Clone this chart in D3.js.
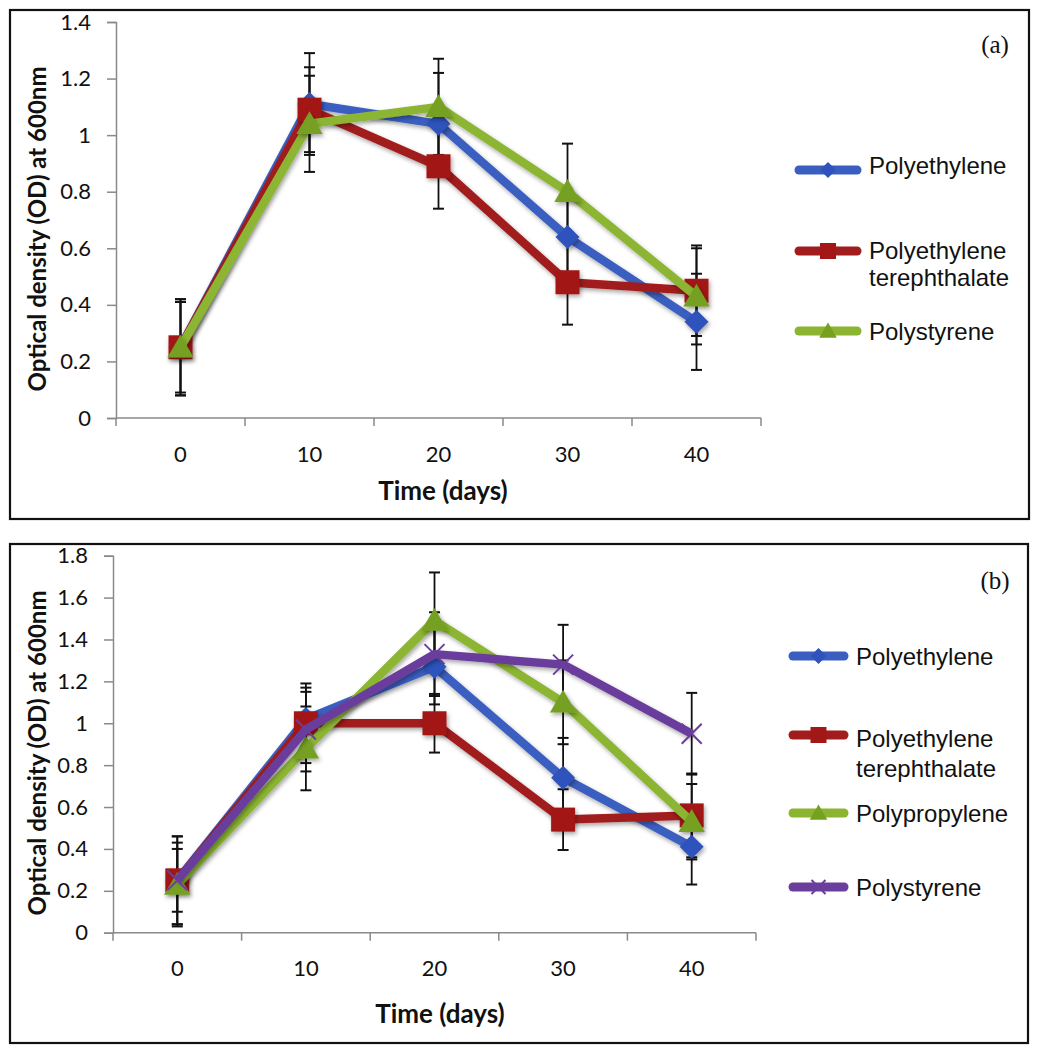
<!DOCTYPE html>
<html><head><meta charset="utf-8">
<script src="https://cdn.jsdelivr.net/npm/d3@7"></script>
<style>body{margin:0;background:#fff}svg{display:block}</style>
</head><body>
<svg id="c" width="1038" height="1050"></svg>
<script>
// ---------- data ----------
const days = ["0","10","20","30","40"];
const yTicksA = [0,0.2,0.4,0.6,0.8,1,1.2,1.4];
const yTicksB = [0,0.2,0.4,0.6,0.8,1,1.2,1.4,1.6,1.8];

const seriesNamesA = ["Polyethylene","Polyethylene terephthalate","Polystyrene"];
const peA  = [0.25,1.11,1.04,0.64,0.34];
const petA = [0.25,1.09,0.89,0.48,0.45];
const psA  = [0.25,1.04,1.10,0.80,0.43];
const peAerr  = [0.17,0.18,0.18,0.17,0.17];
const petAerr = [0.17,0.15,0.15,0.15,0.16];
const psAerr  = [0.16,0.17,0.17,0.17,0.17];

const seriesNamesB = ["Polyethylene","Polyethylene terephthalate","Polypropylene","Polystyrene"];
const peB  = [0.25,1.02,1.27,0.74,0.41];
const petB = [0.25,1.00,1.00,0.54,0.56];
const ppB  = [0.23,0.88,1.49,1.10,0.53];
const psB  = [0.25,0.97,1.33,1.28,0.95];
const peBerr  = [0.15,0.13,0.18,0.19,0.18];
const petBerr = [0.21,0.19,0.14,0.145,0.20];
const ppBerr  = [0.20,0.20,0.23,0.20,0.18];
const psBerr  = [0.21,0.20,0.20,0.19,0.195];

// ---------- styles ----------
const COL = {blue:"#3B5FC0", red:"#A11C1C", green:"#8BB531", purple:"#6A3E9C"};
const MK  = {blue:"#2F52BC", red:"#A31717", green:"#76A020", purple:"#6A3E9C"};

const svg = d3.select("#c");
const defs = svg.append("defs");
const f = defs.append("filter").attr("id","sh").attr("x","-50%").attr("y","-50%").attr("width","200%").attr("height","200%");
f.append("feDropShadow").attr("dx",1.5).attr("dy",2.5).attr("stdDeviation",2).attr("flood-color","#000").attr("flood-opacity",0.35);

function markerPath(shape, s){
  const p = d3.path();
  if(shape==="diamond"){ p.moveTo(0,-s); p.lineTo(s,0); p.lineTo(0,s); p.lineTo(-s,0); p.closePath(); }
  else if(shape==="square"){ p.rect(-s,-s,2*s,2*s); }
  else if(shape==="triangle"){ p.moveTo(0,-s*1.05); p.lineTo(s*1.1,s*0.85); p.lineTo(-s*1.1,s*0.85); p.closePath(); }
  else if(shape==="x"){ p.moveTo(-s,-s); p.lineTo(s,s); p.moveTo(s,-s); p.lineTo(-s,s); }
  return p.toString();
}

function drawPanel(cfg){
  const g = svg.append("g");
  g.append("rect").attr("x",cfg.box[0]).attr("y",cfg.box[1]).attr("width",cfg.box[2]).attr("height",cfg.box[3])
    .attr("fill","none").attr("stroke","#111").attr("stroke-width",2.2);

  const x = d3.scaleBand().domain(days).range(cfg.xr).padding(0);
  const y = d3.scaleLinear().domain(cfg.yd).range(cfg.yr);
  const cx = d => x(d)+x.bandwidth()/2;

  // y axis
  const ya = g.append("g").attr("transform",`translate(${cfg.xr[0]},0)`)
    .call(d3.axisLeft(y).tickValues(cfg.yticks).tickFormat(d3.format("~g")).tickSize(9).tickPadding(16));
  ya.select(".domain").attr("stroke","#8a8a8a").attr("stroke-width",1.5);
  ya.selectAll(".tick line").attr("stroke","#8a8a8a").attr("stroke-width",1.5);
  ya.selectAll("text").attr("font-family","Lato, 'Open Sans', sans-serif").attr("font-size",22).attr("fill","#111");

  // x axis: boundary ticks
  const bounds = days.map(d=>x(d)).concat([cfg.xr[1]]);
  const xa = g.append("g");
  xa.append("line").attr("x1",cfg.xr[0]).attr("x2",cfg.xr[1]).attr("y1",cfg.yr[0]).attr("y2",cfg.yr[0])
    .attr("stroke","#8a8a8a").attr("stroke-width",1.5);
  xa.selectAll("line.t").data(bounds).join("line").attr("class","t")
    .attr("x1",d=>d).attr("x2",d=>d).attr("y1",cfg.yr[0]).attr("y2",cfg.yr[0]+8)
    .attr("stroke","#8a8a8a").attr("stroke-width",1.5);
  xa.selectAll("text").data(days).join("text")
    .attr("x",cx).attr("y",cfg.yr[0]+35).attr("text-anchor","middle").attr("dominant-baseline","central")
    .attr("font-family","Lato, 'Open Sans', sans-serif").attr("font-size",22).attr("fill","#111").text(d=>d);

  // titles
  g.append("text").attr("x",cfg.xTitle[0]).attr("y",cfg.xTitle[1]).attr("text-anchor","middle").attr("dominant-baseline","central")
    .attr("font-family","Lato, sans-serif").attr("font-weight","bold").attr("font-size",26).attr("fill","#111").text("Time (days)");
  g.append("text").attr("transform",`translate(${cfg.yTitle[0]},${cfg.yTitle[1]}) rotate(-90)`)
    .attr("text-anchor","middle").attr("dominant-baseline","central")
    .attr("font-family","Lato, sans-serif").attr("font-weight","bold").attr("font-size",24).attr("fill","#111")
    .text("Optical density (OD) at 600nm");
  g.append("text").attr("x",cfg.label[0]).attr("y",cfg.label[1]).attr("text-anchor","middle").attr("dominant-baseline","central")
    .attr("font-family","'Liberation Serif', 'Times New Roman', serif").attr("font-size",25).attr("fill","#111").text(cfg.labelText);

  // error bars
  const eb = g.append("g");
  cfg.series.forEach(s=>{
    s.vals.forEach((v,i)=>{
      const xx = cx(days[i]), e = s.err[i];
      eb.append("line").attr("x1",xx).attr("x2",xx).attr("y1",y(v+e)).attr("y2",y(v-e)).attr("stroke","#111").attr("stroke-width",1.8);
      [v+e,v-e].forEach(t=>eb.append("line").attr("x1",xx-5.5).attr("x2",xx+5.5).attr("y1",y(t)).attr("y2",y(t)).attr("stroke","#111").attr("stroke-width",2));
    });
  });

  // lines + markers
  const line = d3.line().x((d,i)=>cx(days[i])).y(d=>y(d));
  cfg.series.forEach(s=>{
    const sg = g.append("g");
    sg.append("path").attr("d",line(s.vals)).attr("fill","none").attr("stroke",COL[s.c]).attr("stroke-width",8.5)
      .attr("stroke-linejoin","round").attr("filter","url(#sh)");
    sg.selectAll("path.m").data(s.vals).join("path").attr("class","m")
      .attr("transform",(d,i)=>`translate(${cx(days[i])},${y(d)})`)
      .attr("d",markerPath(s.shape, s.shape==="x"?10:12))
      .attr("fill",s.shape==="x"?"none":MK[s.c]).attr("stroke",s.shape==="x"?MK[s.c]:"none").attr("stroke-width",2)
      .attr("filter",s.shape==="x"?null:"url(#sh)");
  });

  // legend
  const lg = g.append("g");
  cfg.series.forEach((s,k)=>{
    const ly = cfg.legLines[k];
    lg.append("line").attr("x1",cfg.legX[0]).attr("x2",cfg.legX[1]).attr("y1",ly).attr("y2",ly)
      .attr("stroke",COL[s.c]).attr("stroke-width",9).attr("stroke-linecap","round");
    const mx=(cfg.legX[0]+cfg.legX[1])/2;
    lg.append("path").attr("transform",`translate(${mx},${ly})`).attr("d",markerPath(s.shape, s.shape==="x"?7:8))
      .attr("fill",s.shape==="x"?"none":MK[s.c]).attr("stroke",s.shape==="x"?MK[s.c]:"none").attr("stroke-width",2);
    const lines = s.name==="Polyethylene terephthalate" ? ["Polyethylene","terephthalate"] : [s.name];
    lines.forEach((t,j)=>{
      lg.append("text").attr("x",cfg.legX[1]+12).attr("y",cfg.legText[k]+j*cfg.legLH).attr("dominant-baseline","central")
        .attr("font-family","'Liberation Sans', Arial, sans-serif").attr("font-size",24).attr("fill","#111").text(t);
    });
  });
}

drawPanel({
  box:[10,10,1019,509], xr:[116,761], yd:[0,1.4], yr:[418,22], yticks:yTicksA,
  xTitle:[443,490], yTitle:[36,229], label:[995,44], labelText:"(a)",
  series:[
    {name:seriesNamesA[0], vals:peA,  err:peAerr,  c:"blue",  shape:"diamond"},
    {name:seriesNamesA[1], vals:petA, err:petAerr, c:"red",   shape:"square"},
    {name:seriesNamesA[2], vals:psA,  err:psAerr,  c:"green", shape:"triangle"}
  ],
  legX:[799,857], legLines:[170,251,331], legText:[165,250,331], legLH:27
});

drawPanel({
  box:[10,544,1018,499], xr:[113,756], yd:[0,1.8], yr:[932.7,555.7], yticks:yTicksB,
  xTitle:[440,1013], yTitle:[36,753], label:[995,580], labelText:"(b)",
  series:[
    {name:seriesNamesB[0], vals:peB,  err:peBerr,  c:"blue",   shape:"diamond"},
    {name:seriesNamesB[1], vals:petB, err:petBerr, c:"red",    shape:"square"},
    {name:seriesNamesB[2], vals:ppB,  err:ppBerr,  c:"green",  shape:"triangle"},
    {name:seriesNamesB[3], vals:psB,  err:psBerr,  c:"purple", shape:"x"}
  ],
  legX:[793,844], legLines:[656,735,813,887], legText:[656,738,813,887], legLH:30
});
</script>
</body></html>
